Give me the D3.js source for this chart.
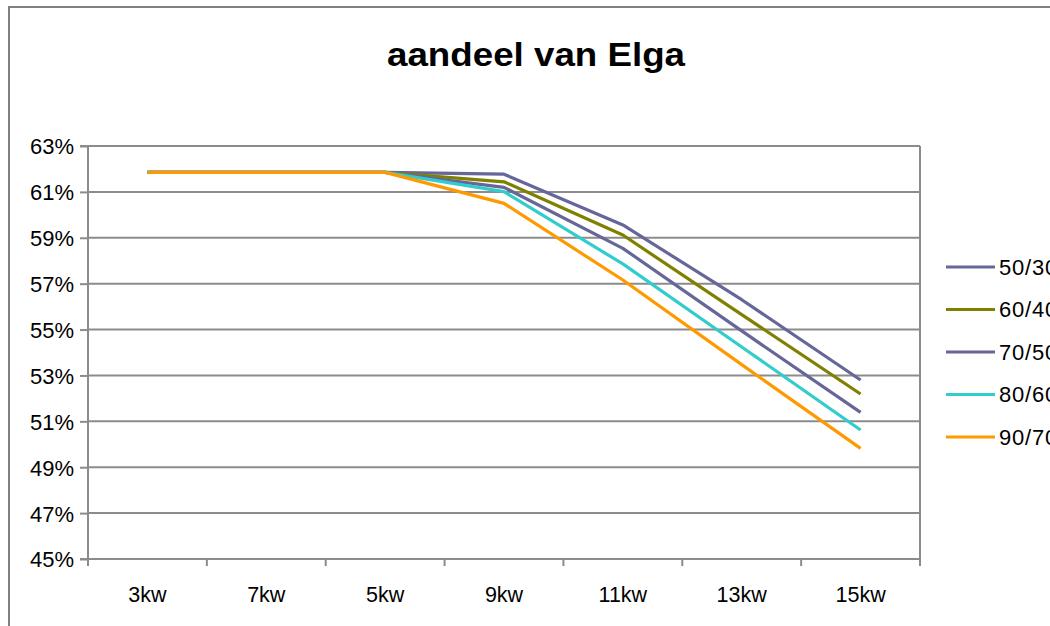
<!DOCTYPE html>
<html><head><meta charset="utf-8">
<script src="https://cdn.jsdelivr.net/npm/d3@7"></script>
<style>html,body{margin:0;padding:0;background:#fff;overflow:hidden}svg{display:block}</style>
</head><body><svg id="c" width="1050" height="626"></svg>
<script>
const categories = ["3kw","7kw","5kw","9kw","11kw","13kw","15kw"];
const seriesNames = ["50/30","60/40","70/50","80/60","90/70"];
const s5030 = [61.85,61.85,61.85,61.77,59.56,56.30,52.80];
const s6040 = [61.85,61.85,61.85,61.44,59.12,55.65,52.19];
const s7050 = [61.85,61.85,61.85,61.20,58.54,54.94,51.39];
const s8060 = [61.85,61.85,61.85,61.01,57.86,54.24,50.62];
const s9070 = [61.85,61.85,61.85,60.50,57.16,53.47,49.82];
const yTicks = [45,47,49,51,53,55,57,59,61,63];
const colors = ["#666699","#808000","#666699","#33CCCC","#FF9900"];
const seriesValues = [s5030,s6040,s7050,s8060,s9070];

const svg = d3.select("#c");
const font = "'Liberation Sans', Arial, sans-serif";
const L = 88, R = 920, T = 146, B = 559;
const x = d3.scaleBand().domain(categories).range([L, R]).padding(0);
const y = d3.scaleLinear().domain([45, 63]).range([B, T]);
const grey = "#8c8c8c";

// outer border
svg.append("rect").attr("x", 9).attr("y", 7).attr("width", 1100).attr("height", 700)
  .attr("fill", "none").attr("stroke", "#808080").attr("stroke-width", 2);

// title
svg.append("text").attr("x", 536).attr("y", 66).attr("text-anchor", "middle")
  .attr("font-family", font).attr("font-weight", "bold").attr("font-size", 34)
  .attr("textLength", 298).attr("lengthAdjust", "spacingAndGlyphs")
  .attr("fill", "#000").text("aandeel van Elga");

// gridlines
svg.append("g").selectAll("line").data(yTicks).join("line")
  .attr("x1", L).attr("x2", R).attr("y1", d => y(d)).attr("y2", d => y(d))
  .attr("stroke", grey).attr("stroke-width", 2);
// right border of plot
svg.append("line").attr("x1", R).attr("x2", R).attr("y1", T).attr("y2", B)
  .attr("stroke", grey).attr("stroke-width", 2);

// y axis
const yAxis = d3.axisLeft(y).tickValues(yTicks).tickSize(8).tickFormat(d => d + "%").tickPadding(6);
const gy = svg.append("g").attr("transform", `translate(${L},0)`).call(yAxis);
gy.select(".domain").attr("stroke", grey).attr("stroke-width", 2).attr("d", `M-8,${T}H0V${B}H-8`);
gy.selectAll(".tick line").attr("stroke", grey).attr("stroke-width", 2);
gy.selectAll(".tick text").attr("font-family", font).attr("font-size", 22).attr("fill", "#000").attr("dy", "0.36em");

// x axis
const gx = svg.append("g").attr("transform", `translate(0,${B})`);
gx.append("line").attr("x1", L).attr("x2", R).attr("stroke", grey).attr("stroke-width", 2);
const bounds = categories.map(c => x(c)).concat([R]);
gx.selectAll("line.t").data(bounds).join("line").attr("class", "t")
  .attr("x1", d => d).attr("x2", d => d).attr("y1", 0).attr("y2", 7)
  .attr("stroke", grey).attr("stroke-width", 2);
gx.selectAll("text").data(categories).join("text")
  .attr("x", d => x(d) + x.bandwidth() / 2).attr("y", 43)
  .attr("text-anchor", "middle").attr("font-family", font).attr("font-size", 21.5)
  .attr("fill", "#000").text(d => d);

// lines
const line = d3.line().x((d, i) => x(categories[i]) + x.bandwidth() / 2).y(d => y(d));
svg.append("g").selectAll("path").data(seriesValues).join("path")
  .attr("d", d => line(d)).attr("fill", "none")
  .attr("stroke", (d, i) => colors[i]).attr("stroke-width", 3.2)
  .attr("stroke-linejoin", "round");

// legend
const lg = svg.append("g");
seriesNames.forEach((n, i) => {
  const ly = 267 + i * 42.5;
  lg.append("line").attr("x1", 946).attr("x2", 995).attr("y1", ly).attr("y2", ly)
    .attr("stroke", colors[i]).attr("stroke-width", 3.2);
  lg.append("text").attr("x", 999).attr("y", ly).attr("dy", "0.36em")
    .attr("font-family", font).attr("font-size", 22).attr("letter-spacing", 0.8)
    .attr("fill", "#000").text(n);
});
</script></body></html>
